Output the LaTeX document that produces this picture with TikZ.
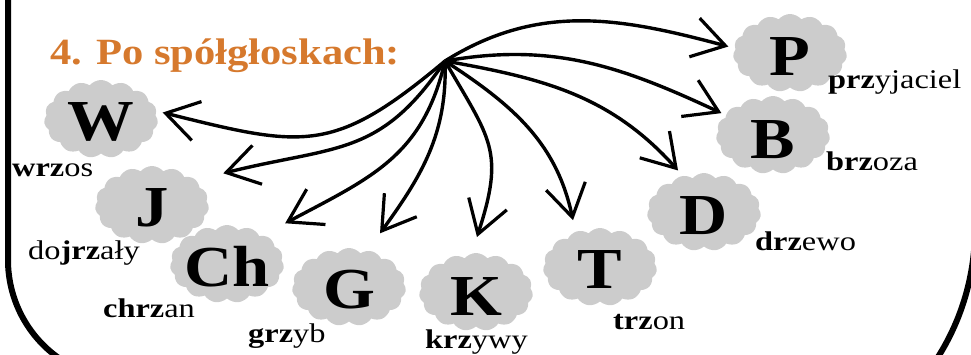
\documentclass[tikz,border=0pt]{standalone}
\usepackage{fontspec}
\setmainfont[FakeStretch=1.15]{Liberation Serif}
\newfontfamily\wordfont[FakeStretch=1.2]{Liberation Serif}
\usepackage{tikz}
\usetikzlibrary{arrows.meta, shapes.symbols, positioning}
\definecolor{titleorange}{RGB}{214,121,45}
\definecolor{cloudgray}{RGB}{204,204,204}

\begin{document}
\begin{tikzpicture}[x=1pt,y=1pt]
\tikzstyle{every node}+=[inner sep=0pt]
\tikzstyle{puff}=[cloud, cloud puffs=15, cloud puff arc=100, aspect=1.5, fill=cloudgray, minimum width=114pt, minimum height=78pt]
\tikzstyle{letter}=[font=\fontsize{58}{58}\selectfont\bfseries]
\tikzstyle{word}=[anchor=base west, font=\wordfont\fontsize{27}{32}\selectfont]
\tikzstyle{link}=[line width=3.4pt, -{Straight Barb[length=32pt,width=40pt,line width=3.2pt]}]
\useasboundingbox (0,0) rectangle (971,-354);
% frame
\draw [line width=6pt] (8,10) -- (8,-260) arc [start angle=180, end angle=235, radius=120];
\draw [line width=6pt] (975,-120) -- (975,-229) arc [start angle=0, end angle=-35, radius=240];
% title
\draw (50,-64) node [anchor=base west, text=titleorange, font=\fontsize{37}{42}\selectfont\bfseries] {4. Po spółgłoskach:};
% clouds
\node [puff] (w) at (101,-119) {};
\node [puff] (j) at (152,-205) {};
\node [puff] (ch) at (227,-264) {};
\node [puff] (g) at (349,-287) {};
\node [puff] (k) at (476,-292) {};
\node [puff] (t) at (600,-267) {};
\node [puff] (d) at (704,-212) {};
\node [puff] (b) at (773,-135) {};
\node [puff] (p) at (790,-53) {};
\node [letter] at ([yshift=-3pt]w) {W};
\node [letter] at ([yshift=-3pt]j) {J};
\node [letter] at ([yshift=-3pt]ch) {Ch};
\node [letter] at ([yshift=-3pt]g) {G};
\node [letter] at ([yshift=-5pt]k) {K};
\node [letter] at ([yshift=-3pt]t) {T};
\node [letter] at ([yshift=-4pt]d) {D};
\node [letter] at ([yshift=-5pt]b) {B};
\node [letter] at ([yshift=-4pt]p) {P};
% words
\node [word] at (12,-176) {\textbf{wrz}os};
\node [word] at (28,-259) {do\textbf{jrz}ały};
\node [word] at (103,-317) {\textbf{chrz}an};
\node [word] at (248,-342) {\textbf{grz}yb};
\node [word] at (425,-348) {\textbf{krz}ywy};
\node [word] at (613,-329) {\textbf{trz}on};
\node [word] at (755,-250) {\textbf{drz}ewo};
\node [word] at (826,-170) {\textbf{brz}oza};
\node [word] at (828,-88) {\textbf{prz}yjaciel};
% arrows
\coordinate (hub) at (445,-61);
\draw [link] (hub) to [out=220, in=-14, looseness=1.3] ([shift={(6:62)}]w.center);
\draw [link] (hub) to [out=236, in=14, looseness=1.2] ([shift={(24:78)}]j.center);
\draw [link] (hub) to [out=257, in=28, looseness=1.1] ([shift={(35:71)}]ch.center);
\draw [link] (hub) to [out=272, in=54] ([shift={(60:62)}]g.center);
\draw [link] (hub) to [out=-60, in=72, looseness=1.3] ([shift={(89:55)}]k.center);
\draw [link] (hub) to [out=-33, in=102] ([shift={(120:54)}]t.center);
\draw [link] (hub) to [out=-10, in=132] ([shift={(122:49)}]d.center);
\draw [link] (hub) to [out=10, in=155] ([shift={(157:56)}]b.center);
\draw [link] (hub) to [out=32, in=165] ([shift={(174:62)}]p.center);
\end{tikzpicture}
\end{document}
